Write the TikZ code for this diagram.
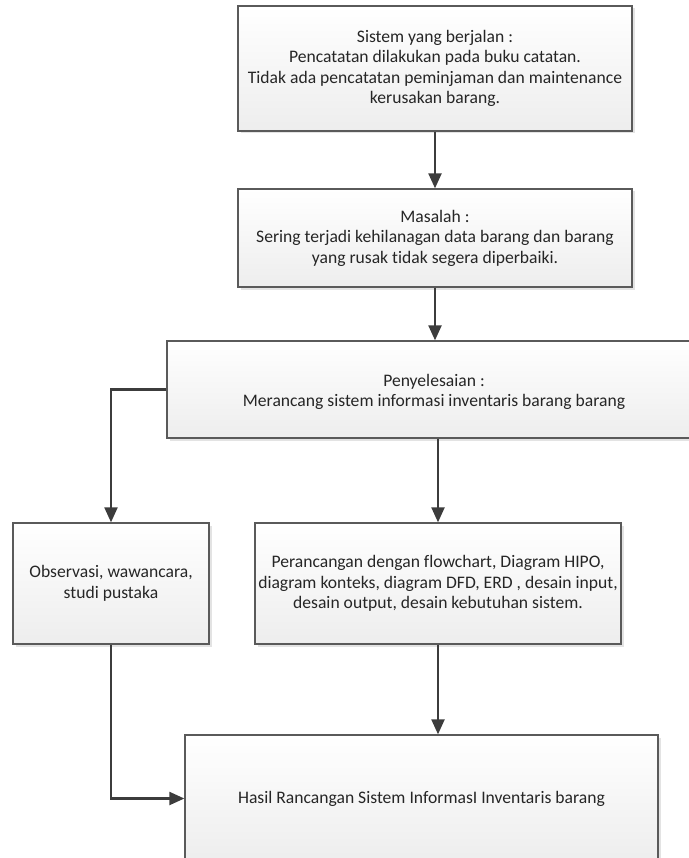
\documentclass[tikz,border=0pt]{standalone}
\usepackage{fontspec}
\setmainfont[Ligatures=NoCommon]{Carlito}
\usetikzlibrary{shadows,arrows.meta}
\definecolor{edgegray}{HTML}{5A5A5A}
\definecolor{conngray}{HTML}{3C3C3C}
\begin{document}
\begin{tikzpicture}[x=1pt,y=-1pt,
  box/.style={draw=edgegray, line width=1.3pt, top color=white, bottom color=black!7,
    drop shadow={opacity=0.22,shadow xshift=2.5pt,shadow yshift=-2.5pt},
    align=center, inner sep=0pt, font=\fontsize{17.6}{20.5}\selectfont, text=black!85},
  conn/.style={draw=conngray, line width=2.2pt, -{Triangle[length=15pt,width=13pt]}}]
\useasboundingbox (0,0) rectangle (688,858);
\node[box, minimum width=394pt, minimum height=125pt] (b1) at (435,68.5)
  {Sistem yang berjalan :\\Pencatatan dilakukan pada buku catatan.\\Tidak ada pencatatan peminjaman dan maintenance\\kerusakan barang.};
\node[box, minimum width=394pt, minimum height=98pt] (b2) at (435,238)
  {Masalah :\\Sering terjadi kehilanagan data barang dan barang\\yang rusak tidak segera diperbaiki.};
\node[box, minimum width=523pt, minimum height=97pt] (b3) at (428.5,389.5)
  {};
\node[align=center, font=\fontsize{17.6}{20.5}\selectfont, text=black!85] (t3) at (434,392)
  {Penyelesaian :\\Merancang sistem informasi inventaris barang barang};
\node[box, minimum width=196pt, minimum height=121pt] (b4) at (111,583.5)
  {Observasi, wawancara,\\studi pustaka};
\node[box, minimum width=366pt, minimum height=121pt] (b5) at (438,583.5)
  {Perancangan dengan flowchart, Diagram HIPO,\\diagram konteks, diagram DFD, ERD , desain input,\\desain output, desain kebutuhan sistem.};
\node[box, minimum width=473pt, minimum height=127pt] (b6) at (421.5,798.5)
  {Hasil Rancangan Sistem InformasI Inventaris barang};
\draw[conn] (b1.south) -- (b2.north);
\draw[conn] (b2.south) -- (b2.south |- b3.north);
\draw[conn] (b3.south -| b5.north) -- (b5.north);
\draw[conn] (b3.west) -| (b4.north);
\draw[conn] (b4.south) |- (b6.west);
\draw[conn] (b5.south) -- (b5.south |- b6.north);
\end{tikzpicture}
\end{document}
